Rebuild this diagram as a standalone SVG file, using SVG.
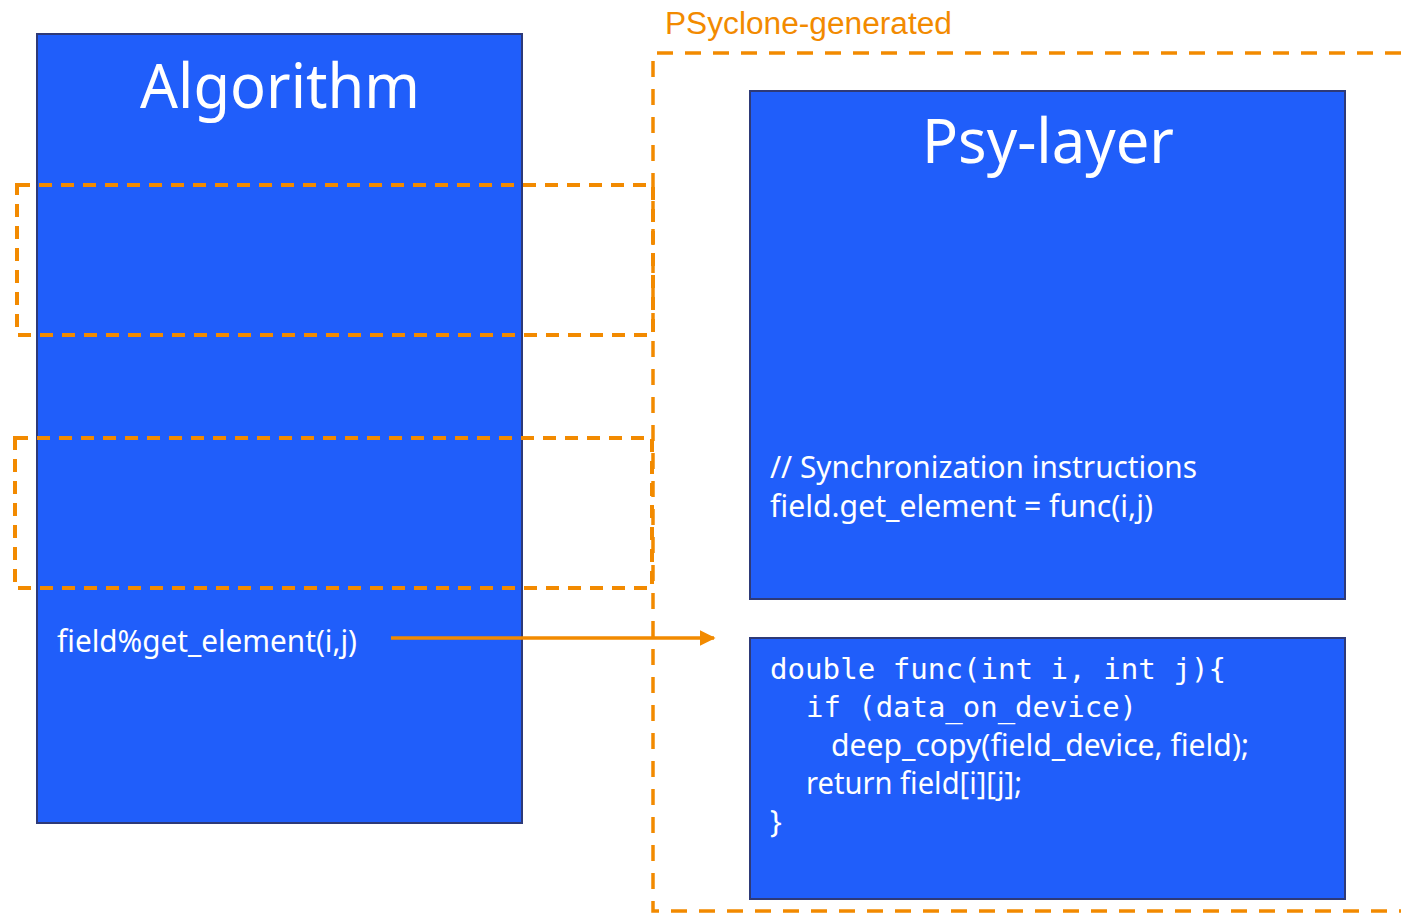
<svg xmlns="http://www.w3.org/2000/svg" width="1401" height="913" viewBox="0 0 1401 913">
  <defs>
    <style>
      .box { fill: #205efa; stroke: #2e3a78; stroke-width: 2; }
      .title { font-family: "Noto Sans", "Open Sans", sans-serif; font-size: 62px; fill: #ffffff; text-anchor: middle; }
      .body { font-family: "Noto Sans", "Open Sans", sans-serif; font-size: 31px; fill: #ffffff; }
      .mono { font-family: "DejaVu Sans Mono", "Liberation Mono", monospace; font-size: 29px; fill: #ffffff; }
      .zone { fill: none; stroke: #f28a00; stroke-width: 3.5; stroke-dasharray: 16 12; }
      .region { fill: none; stroke: #f28a00; stroke-width: 4; stroke-dasharray: 13 9; }
      .caption { font-family: "Liberation Sans", Arial, sans-serif; font-size: 31px; fill: #f28a00; }
      .link { stroke: #f28a00; stroke-width: 3.5; fill: none; }
    </style>
    <marker id="arrowhead" viewBox="0 0 10 10" refX="9" refY="5" markerWidth="4.5" markerHeight="4.5" orient="auto" markerUnits="strokeWidth">
      <path d="M0,0 L10,5 L0,10 z" fill="#f28a00"/>
    </marker>
  </defs>

  <!-- Generated-code zone -->
  <g id="psyclone-zone">
    <path class="zone" d="M1401,53 L653,53 L653,911 L1401,911"/>
    <text class="caption" x="665" y="34" textLength="287" lengthAdjust="spacingAndGlyphs">PSyclone-generated</text>
  </g>

  <!-- Algorithm layer -->
  <g id="algorithm">
    <rect class="box" x="37" y="34" width="485" height="789"/>
    <text class="title" x="280" y="108" textLength="280" lengthAdjust="spacingAndGlyphs">Algorithm</text>
    <text class="body" x="57" y="652" textLength="300" lengthAdjust="spacingAndGlyphs">field%get_element(i,j)</text>
  </g>

  <!-- Regions of the algorithm handled by generated code -->
  <g id="region-1">
    <rect class="region" x="17" y="185" width="636" height="150"/>
  </g>
  <g id="region-2">
    <rect class="region" x="15" y="438" width="637" height="150"/>
  </g>

  <!-- PSy layer -->
  <g id="psy-layer">
    <rect class="box" x="750" y="91" width="595" height="508"/>
    <text class="title" x="1048" y="163" textLength="252" lengthAdjust="spacingAndGlyphs">Psy-layer</text>
    <text class="body" x="770" y="478" textLength="427" lengthAdjust="spacingAndGlyphs">// Synchronization instructions</text>
    <text class="body" x="770" y="517" textLength="383" lengthAdjust="spacingAndGlyphs">field.get_element = func(i,j)</text>
  </g>

  <!-- Accessor function -->
  <g id="func">
    <rect class="box" x="750" y="638" width="595" height="261"/>
    <text class="mono" x="770" y="679" textLength="456" lengthAdjust="spacingAndGlyphs">double func(int i, int j){</text>
    <text class="mono" x="806" y="717" textLength="331" lengthAdjust="spacingAndGlyphs">if (data_on_device)</text>
    <text class="body" x="831" y="756" textLength="418" lengthAdjust="spacingAndGlyphs">deep_copy(field_device, field);</text>
    <text class="body" x="806" y="794" textLength="216" lengthAdjust="spacingAndGlyphs">return field[i][j];</text>
    <text class="body" x="770" y="832">}</text>
  </g>

  <!-- Connectors -->
  <g id="connectors">
    <line class="link" x1="391" y1="638" x2="714" y2="638" marker-end="url(#arrowhead)"/>
  </g>
</svg>
